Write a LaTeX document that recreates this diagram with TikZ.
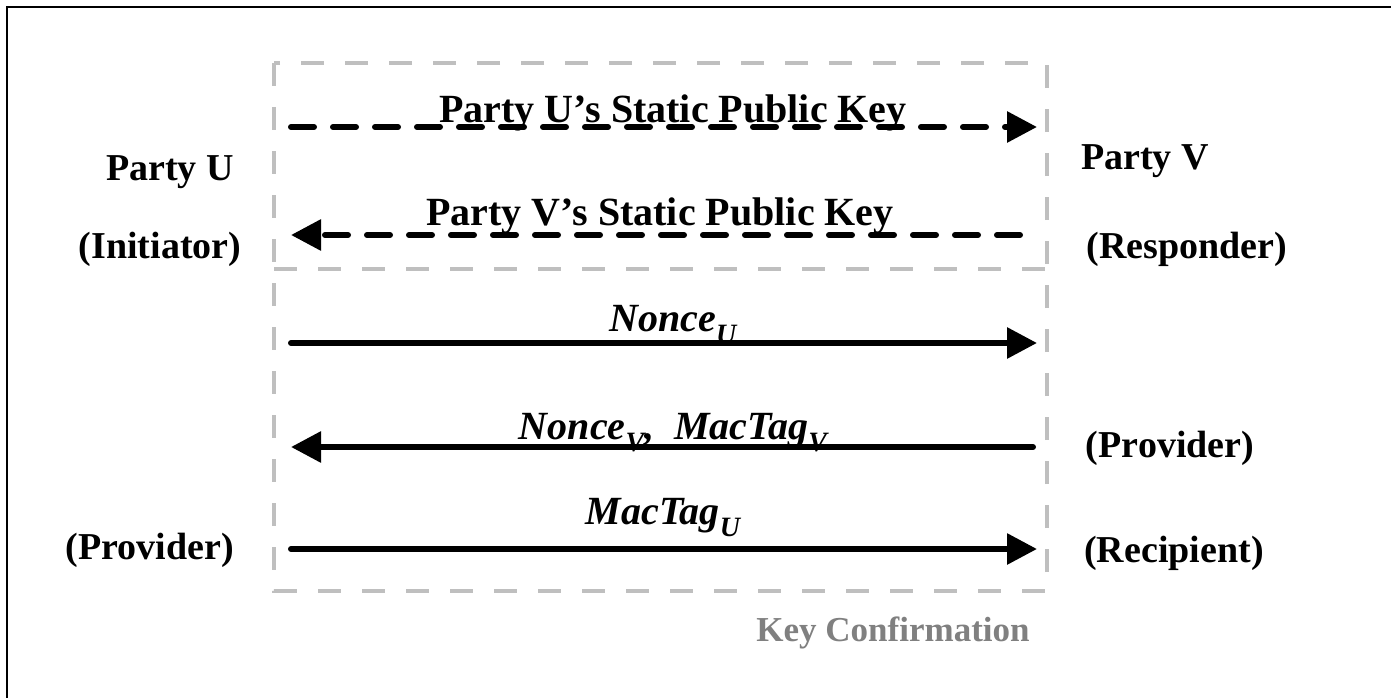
\documentclass[tikz,border=0pt]{standalone}
\usepackage{fontspec}
\setmainfont{Liberation Serif}
\usetikzlibrary{arrows.meta}

% subscript in the current (bold italic) face
\newcommand{\lowsub}[1]{\raisebox{-0.3em}{\fontsize{28}{30}\selectfont #1}}

\tikzset{
  side/.style={font=\bfseries\fontsize{38}{40}\selectfont, anchor=base, inner sep=0pt},
  msg/.style={font=\bfseries\fontsize{40}{42}\selectfont, anchor=base, inner sep=0pt},
  msgit/.style={font=\bfseries\itshape\fontsize{40}{42}\selectfont, anchor=base, inner sep=0pt},
  framebox/.style={draw=black!25, line width=3.5pt, dash pattern=on 23pt off 21pt},
  solidarrow/.style={line width=6pt, line cap=round, -{Triangle[length=30pt,width=30pt]}},
  dasharrow/.style={line width=6pt, line cap=round, dash pattern=on 23pt off 19pt,
    -{Triangle[length=30pt,width=30pt]}},
}

\begin{document}
\begin{tikzpicture}[x=1pt,y=-1pt]
\useasboundingbox (0,0) rectangle (1391,698);

% outer frame (top and left edges)
\draw[line width=2.5pt] (7,698) -- (7,7) -- (1391,7);

% key confirmation frame with its divider
\draw[framebox] (274,63) rectangle (1047,591);
\draw[framebox] (274,269) -- (1047,269);

% party names and roles
\node[side] (pu)   at (170,180) {Party U};
\node[side] (init) at (160,258) {(Initiator)};
\node[side] (pv)   at (1145,169) {Party V};
\node[side] (resp) at (1187,258) {(Responder)};
\node[side] (provL) at (150,559) {(Provider)};
\node[side] (provR) at (1170,457) {(Provider)};
\node[side] (recip) at (1174,562) {(Recipient)};
\node[font=\bfseries\fontsize{35}{37}\selectfont, text=black!50, anchor=base, inner sep=0pt]
  (kc) at (893,641) {Key Confirmation};

% message end points
\coordinate (a1) at (291,127);  \coordinate (b1) at (1037,127);
\coordinate (a2) at (1020,235); \coordinate (b2) at (291,235);
\coordinate (a3) at (291,343);  \coordinate (b3) at (1037,343);
\coordinate (a4) at (1033,447); \coordinate (b4) at (291,447);
\coordinate (a5) at (291,549);  \coordinate (b5) at (1037,549);

% messages
\draw[dasharrow]  (a1) -- (b1);
\draw[dasharrow]  (a2) -- (b2);
\draw[solidarrow] (a3) -- (b3);
\draw[solidarrow] (a4) -- (b4);
\draw[solidarrow] (a5) -- (b5);

% message labels
\node[msg] (m1) at (673,123) {Party U’s Static Public Key};
\node[msg] (m2) at (660,225) {Party V’s Static Public Key};
\node[msgit] (m3) at (673,331) {Nonce\lowsub{U}};
\node[msgit] (m4) at (673,439) {Nonce\lowsub{V},\ \ MacTag\lowsub{V}};
\node[msgit] (m5) at (663,524) {MacTag\lowsub{U}};
\end{tikzpicture}
\end{document}
